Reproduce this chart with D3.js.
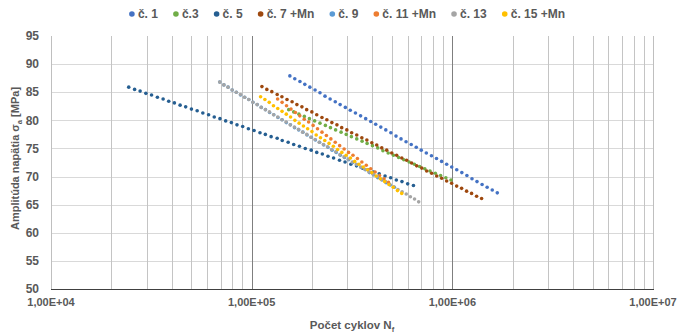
<!DOCTYPE html>
<html>
<head>
<meta charset="utf-8">
<script src="https://cdn.jsdelivr.net/npm/d3@7"></script>
<style>
    body { margin: 0; background: #fff; }
    text { font-family: "Liberation Sans", Arial, sans-serif; }
</style>
</head>
<body>
<svg id="chart" width="681" height="334"></svg>
<script>
// S-N data: cycles to failure (N) and stress amplitude (MPa)
const c1N = [155000,164000,174000,184000,195000,207000,219000,232000,246000,261000,276000,293000,310000,329000,349000,370000,392000,415000,440000,466000,494000,524000,555000,588000,624000,661000,700000,742000,787000,834000,884000,937000,993000,1052000,1115000,1182000,1253000,1327000,1407000,1491000,1581000,1675000];
const c1S = [87.9,87.4,86.9,86.4,85.9,85.4,84.9,84.3,83.8,83.3,82.8,82.3,81.8,81.3,80.8,80.3,79.8,79.3,78.8,78.3,77.8,77.2,76.7,76.2,75.7,75.2,74.7,74.2,73.7,73.2,72.7,72.2,71.7,71.2,70.7,70.2,69.6,69.1,68.6,68.1,67.6,67.1];

const c3N = [153000,162000,172000,183000,194000,206000,219000,233000,247000,262000,279000,296000,314000,334000,355000,376000,400000,425000,451000,479000,509000,540000,573000,609000,647000,687000,729000,774000,823000,874000,928000,985000];
const c3S = [81.9,81.5,81.1,80.7,80.3,79.9,79.5,79.1,78.7,78.3,77.9,77.5,77.1,76.7,76.3,75.9,75.5,75.1,74.6,74.2,73.8,73.4,73.0,72.6,72.2,71.8,71.4,71.0,70.6,70.2,69.8,69.4];

const c5N = [24400,26100,27800,29700,31700,33900,36200,38600,41200,44000,46900,50100,53500,57100,61000,65100,69500,74200,79200,84500,90200,96300,102800,110000,117000,125000,134000,142000,152000,162000,173000,185000,198000,211000,225000,240000,256000,274000,292000,312000,333000,356000,379000,405000,432000,462000,493000,526000,561000,599000,640000];
const c5S = [85.9,85.5,85.2,84.8,84.5,84.1,83.8,83.4,83.1,82.7,82.4,82.0,81.7,81.3,81.0,80.6,80.3,79.9,79.6,79.2,78.9,78.5,78.2,77.8,77.5,77.1,76.8,76.4,76.1,75.7,75.4,75.0,74.7,74.3,74.0,73.6,73.3,72.9,72.6,72.2,71.9,71.5,71.2,70.8,70.5,70.1,69.8,69.4,69.1,68.7,68.4];

const c7N = [112500,119000,126000,134000,141500,150000,159000,168000,178000,188000,199500,211000,224000,237000,251000,266000,281000,298000,315000,334000,354000,375000,397000,420000,445000,471000,499000,528000,560000,592000,627000,664000,704000,745000,789000,836000,885000,937000,992000,1051000,1112000,1178000,1247000,1321000,1399000];
const c7S = [86.0,85.5,85.1,84.6,84.2,83.7,83.3,82.8,82.4,81.9,81.5,81.0,80.5,80.1,79.6,79.2,78.7,78.3,77.8,77.4,76.9,76.5,76.0,75.6,75.1,74.7,74.2,73.8,73.3,72.9,72.4,71.9,71.5,71.0,70.6,70.1,69.7,69.2,68.8,68.3,67.9,67.4,67.0,66.5,66.1];

const c9N = [69300,72700,76300,80000,83900,88000,92300,96800,101500,106600,111700,117200,122900,128900,135200,141800,148800,156100,163700,171600,180100,188800,198100,207800,218000,228600,239800,251500,263700,276600,290200,304400,319200,334900,351200,368400,386400,405400,425100,445900,467700,490600,514600];
const c9S = [86.8,86.3,85.9,85.4,85.0,84.5,84.1,83.7,83.2,82.8,82.3,81.9,81.4,81.0,80.5,80.1,79.6,79.2,78.7,78.3,77.9,77.4,77.0,76.5,76.1,75.6,75.2,74.7,74.3,73.8,73.4,73.0,72.5,72.1,71.6,71.2,70.7,70.3,69.8,69.4,68.9,68.5,68.1];

const c11N = [134700,141800,149200,157000,165200,173700,182800,192300,202400,212900,224100,235700,248100,260900,274500,288900,304000,319800,336500,354100,372500,391900,412400,433900,456600,480400];
const c11S = [83.8,83.2,82.6,82.0,81.4,80.8,80.2,79.7,79.1,78.5,77.9,77.3,76.7,76.1,75.5,74.9,74.3,73.8,73.2,72.6,72.0,71.4,70.8,70.2,69.6,69.0];

const c13N = [69300,72700,76200,79900,83800,87900,92200,96700,101400,106400,111500,117000,122600,128600,134900,141500,148400,155600,163200,171100,179400,188200,197300,207000,217100,227600,238700,250300,262500,275300,288700,302800,317500,332900,349200,366300,384100,402800,422400,443000,464500,487200,511000,535800,561900,589200,618000,648100,679700];
const c13S = [86.8,86.3,85.9,85.4,85.0,84.6,84.1,83.7,83.2,82.8,82.3,81.9,81.5,81.0,80.6,80.1,79.7,79.2,78.8,78.4,77.9,77.5,77.0,76.6,76.1,75.7,75.3,74.8,74.4,73.9,73.5,73.1,72.6,72.2,71.7,71.3,70.8,70.4,70.0,69.5,69.1,68.6,68.2,67.7,67.3,66.9,66.4,66.0,65.5];

const c15N = [110800,116400,122300,128400,134900,141700,148800,156300,164200,172400,181100,190100,199700,209700,220300,231400,243000,255300,268100,281500,295700,310600,326200,342600,359900,377900,396900,416900,437800,459900,483000,507300,532700,559500];
const c15S = [84.2,83.7,83.2,82.6,82.1,81.6,81.1,80.6,80.0,79.5,79.0,78.5,78.0,77.4,76.9,76.4,75.9,75.4,74.8,74.3,73.8,73.3,72.7,72.2,71.7,71.2,70.7,70.1,69.6,69.1,68.6,68.1,67.5,67.0];

const seriesNames = ["č. 1", "č.3", "č. 5", "č. 7 +Mn", "č. 9", "č. 11 +Mn", "č. 13", "č. 15 +Mn"];
const seriesColors = ["#4472C4", "#70AD47", "#255E91", "#9E480E", "#5B9BD5", "#ED7D31", "#A5A5A5", "#FFC000"];
const seriesN = [c1N, c3N, c5N, c7N, c9N, c11N, c13N, c15N];
const seriesS = [c1S, c3S, c5S, c7S, c9S, c11S, c13S, c15S];

const xTickValues = [1e4, 1e5, 1e6, 1e7];
const xTickLabels = ["1,00E+04", "1,00E+05", "1,00E+06", "1,00E+07"];
const yTickValues = [50, 55, 60, 65, 70, 75, 80, 85, 90, 95];

const svg = d3.select("#chart");
const plotLeft = 51, plotRight = 653, plotTop = 36, plotBottom = 289;

const x = d3.scaleLog().domain([1e4, 1e7]).range([plotLeft, plotRight]);
const y = d3.scaleLinear().domain([50, 95]).range([plotBottom, plotTop]);
const px = v => Math.round(v) + 0.5;

// horizontal gridlines
svg.append("g").selectAll("line")
    .data(yTickValues.filter(v => v > 50 && v < 95))
    .enter().append("line")
    .attr("x1", plotLeft).attr("x2", plotRight)
    .attr("y1", d => px(y(d))).attr("y2", d => px(y(d)))
    .attr("stroke", "#D9D9D9").attr("stroke-width", 1);

// vertical log gridlines: minor 2..9, major at decades
const minor = [];
[1e4, 1e5, 1e6].forEach(dec => { for (let k = 2; k <= 9; k++) minor.push(dec * k); });
svg.append("g").selectAll("line")
    .data(minor)
    .enter().append("line")
    .attr("x1", d => px(x(d))).attr("x2", d => px(x(d)))
    .attr("y1", plotTop).attr("y2", plotBottom)
    .attr("stroke", "#C4C4C4").attr("stroke-width", 1);

svg.append("g").selectAll("line")
    .data([1e5, 1e6])
    .enter().append("line")
    .attr("x1", d => px(x(d))).attr("x2", d => px(x(d)))
    .attr("y1", plotTop).attr("y2", plotBottom)
    .attr("stroke", "#7F7F7F").attr("stroke-width", 1);

svg.append("g").selectAll("line")
    .data([1e4, 1e7])
    .enter().append("line")
    .attr("x1", d => px(x(d))).attr("x2", d => px(x(d)))
    .attr("y1", plotTop).attr("y2", plotBottom)
    .attr("stroke", "#BFBFBF").attr("stroke-width", 1);

// bottom axis line
svg.append("line")
    .attr("x1", plotLeft).attr("x2", plotRight + 1)
    .attr("y1", px(y(50))).attr("y2", px(y(50)))
    .attr("stroke", "#404040").attr("stroke-width", 1);

// tick labels
svg.append("g").selectAll("text")
    .data(yTickValues)
    .enter().append("text")
    .attr("x", 39).attr("y", d => y(d))
    .attr("dy", "0.35em")
    .attr("text-anchor", "end")
    .attr("font-size", 12).attr("font-weight", "bold")
    .attr("fill", "#595959")
    .text(d => d);

svg.append("g").selectAll("text")
    .data(xTickValues)
    .enter().append("text")
    .attr("x", d => x(d)).attr("y", 306)
    .attr("text-anchor", "middle")
    .attr("font-size", 11).attr("font-weight", "bold")
    .attr("fill", "#595959")
    .text((d, i) => xTickLabels[i]);

// axis titles
const yTitle = svg.append("text")
    .attr("transform", `translate(19,${(plotTop + plotBottom) / 2 - 4}) rotate(-90)`)
    .attr("text-anchor", "middle")
    .attr("font-size", 11).attr("font-weight", "bold")
    .attr("fill", "#595959");
yTitle.append("tspan").text("Amplitúda napätia σ");
yTitle.append("tspan").attr("font-size", 7.5).attr("dy", 3).text("a");
yTitle.append("tspan").attr("dy", -3).text(" [MPa]");

const xTitle = svg.append("text")
    .attr("x", 352).attr("y", 329)
    .attr("text-anchor", "middle")
    .attr("font-size", 11.5).attr("font-weight", "bold")
    .attr("fill", "#595959");
xTitle.append("tspan").text("Počet cyklov N");
xTitle.append("tspan").attr("font-size", 7.5).attr("dy", 3).text("f");

// data points, drawn in series order
seriesNames.forEach((name, i) => {
    const pts = seriesN[i].map((n, j) => ({ n: n, s: seriesS[i][j] }));
    svg.append("g").selectAll("circle")
        .data(pts)
        .enter().append("circle")
        .attr("cx", d => x(d.n))
        .attr("cy", d => y(d.s))
        .attr("r", 1.8)
        .attr("fill", seriesColors[i]);
});

// legend, centred over the plot
const legend = svg.append("g");
let cursor = 0;
seriesNames.forEach((name, i) => {
    const g = legend.append("g").attr("transform", `translate(${cursor},0)`);
    g.append("circle").attr("cx", 0).attr("cy", 14).attr("r", 2.8).attr("fill", seriesColors[i]);
    const t = g.append("text")
        .attr("x", 6).attr("y", 14).attr("dy", "0.35em")
        .attr("font-size", 12).attr("font-weight", "bold")
        .attr("fill", "#595959")
        .text(name);
    cursor += 6 + t.node().getComputedTextLength() + 18;
});
const legendWidth = cursor - 18 + 3;
legend.attr("transform", `translate(${347 - legendWidth / 2 + 3},0)`);
</script>
</body>
</html>
